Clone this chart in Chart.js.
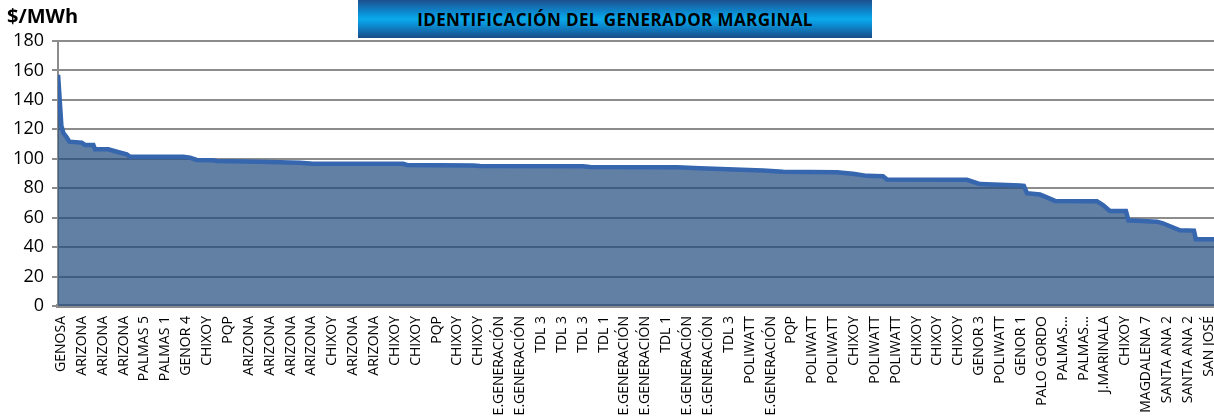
<!DOCTYPE html>
<html>
<head>
<meta charset="utf-8">
<title>Generador marginal</title>
<script src="https://cdn.jsdelivr.net/npm/chart.js@4.4.1/dist/chart.umd.min.js"></script>
<style>
    body { margin: 0; background: #fff; }
    #wrap { position: relative; width: 1214px; height: 419px; }
    #unit {
        position: absolute; left: 7px; top: 4px;
        font: bold 20px 'Open Sans', sans-serif; line-height: 24px; color: #000;
    }
    #title {
        position: absolute; left: 358px; top: 0; width: 514px; height: 38px;
        background: linear-gradient(to bottom, #1d4f8e 0%, #0b8fd6 35%, #0aaaea 50%, #0b8fd6 65%, #1a4a86 100%);
        font: bold 17px 'Open Sans', sans-serif; line-height: 40px; letter-spacing: 0.4px;
        text-align: center; color: #000;
    }
    canvas { position: absolute; left: 0; top: 0; }
</style>
</head>
<body>
<div id="wrap">
    <canvas id="canvas-marginal" width="1214" height="419"></canvas>
    <div id="unit">$/MWh</div>
    <div id="title">IDENTIFICACIÓN DEL GENERADOR MARGINAL</div>
</div>
<script>
// generator names shown on the category axis
var genLabels = [
    'GENOSA', 'ARIZONA', 'ARIZONA', 'ARIZONA', 'PALMAS 5', 'PALMAS 1', 'GENOR 4', 'CHIXOY',
    'PQP', 'ARIZONA', 'ARIZONA', 'ARIZONA', 'ARIZONA', 'CHIXOY', 'ARIZONA', 'ARIZONA',
    'CHIXOY', 'CHIXOY', 'PQP', 'CHIXOY', 'CHIXOY', 'E.GENERACIÓN', 'E.GENERACIÓN', 'TDL 3',
    'TDL 3', 'TDL 3', 'TDL 1', 'E.GENERACIÓN', 'E.GENERACIÓN', 'TDL 1', 'E.GENERACIÓN', 'E.GENERACIÓN',
    'TDL 3', 'POLIWATT', 'E.GENERACIÓN', 'PQP', 'POLIWATT', 'POLIWATT', 'CHIXOY', 'POLIWATT',
    'POLIWATT', 'CHIXOY', 'CHIXOY', 'CHIXOY', 'GENOR 3', 'POLIWATT', 'GENOR 1', 'PALO GORDO',
    'PALMAS...', 'PALMAS...', 'J.MARINALA', 'CHIXOY', 'MAGDALENA 7', 'SANTA ANA 2', 'SANTA ANA 2', 'SAN JOSÉ'
];

// breakpoints of the price duration curve (position in label units, $/MWh)
var curveX = [
    -0.14, 0.02, 0.06, 0.11, 0.27, 0.40, 0.99, 1.15, 1.55, 1.63,
    2.27, 2.67, 3.15, 3.31, 5.86, 6.18, 6.50, 7.28, 7.46, 9.54,
    11.45, 12.07, 16.39, 16.58, 19.74, 20.08, 25.01, 25.35, 29.52, 30.62,
    33.64, 34.60, 37.18, 37.95, 38.62, 39.39, 39.58, 43.41, 44.04, 45.95,
    46.14, 46.29, 46.91, 47.24, 47.63, 49.64, 49.93, 50.26, 51.03, 51.15,
    52.52, 52.80, 53.38, 53.62, 54.29, 54.38, 55.25
];
var curveY = [
    157, 122, 120.5, 117.7, 114.6, 111.6, 111, 109.4, 109.4, 106.4,
    106.4, 104.8, 103, 101.4, 101.4, 100.8, 99.2, 99, 98.5, 98,
    97.3, 96.6, 96.6, 95.8, 95.5, 95.1, 94.9, 94.4, 94.2, 93.6,
    92, 91.2, 90.8, 89.8, 88.4, 88.2, 86, 85.7, 82.8, 81.8,
    81.6, 76.6, 75.7, 73.8, 71.4, 71.2, 68.6, 64.6, 64.6, 58.2,
    57.3, 56.2, 52.8, 51.4, 51.2, 45.3, 45.3
];

// value axis
var yMin = 0;
var yMax = 180;
var yStep = 20;

printMarginalChart();

function buildPoints() {
    // pair every breakpoint position with its price
    var points = [];
    for (var i = 0; i < curveX.length; i++) {
        points.push({ x: curveX[i], y: curveY[i] });
    }
    return points;
}

function printMarginalChart() {
    var ctx = document.getElementById('canvas-marginal').getContext('2d');
    var myAreaChart = new Chart(ctx, {
        type: 'line',
        data: {
            datasets: [{
                label: 'Precio marginal',
                data: buildPoints(),
                borderColor: '#3566ae',
                borderWidth: 4.5,
                backgroundColor: 'rgba(31, 73, 125, 0.7)',
                fill: 'origin',
                pointRadius: 0,
                tension: 0
            }]
        },
        options: {
            responsive: false,
            animation: false,
            devicePixelRatio: 1,
            layout: {
                padding: { top: 41, left: 0, right: 0, bottom: 0 }
            },
            plugins: {
                legend: { display: false },
                tooltip: { enabled: false }
            },
            scales: {
                x: {
                    type: 'linear',
                    min: -0.144,
                    max: 55.25,
                    afterBuildTicks: function(scale) {
                        scale.ticks = genLabels.map(function(name, i) {
                            return { value: i };
                        });
                    },
                    afterFit: function(scale) {
                        // plot runs to the right edge, labels overhang is cut like the original
                        scale.height = 113;
                        scale.paddingLeft = 0;
                        scale.paddingRight = 0;
                    },
                    grid: { display: false, drawTicks: false },
                    border: { display: true, color: '#8c8c8c', width: 4 },
                    ticks: {
                        autoSkip: false,
                        minRotation: 90,
                        maxRotation: 90,
                        padding: 10,
                        color: '#000',
                        font: { family: 'Open Sans', size: 14 },
                        callback: function(value) {
                            return genLabels[value];
                        }
                    }
                },
                y: {
                    min: yMin,
                    max: yMax,
                    afterFit: function(scale) {
                        scale.width = 58;
                    },
                    grid: {
                        color: '#8c8c8c',
                        lineWidth: 2,
                        tickLength: 6
                    },
                    border: { display: true, color: '#8c8c8c', width: 2 },
                    ticks: {
                        stepSize: yStep,
                        padding: 8,
                        color: '#000',
                        font: { family: 'Open Sans', size: 18 }
                    }
                }
            }
        }
    });
}
</script>
</body>
</html>
